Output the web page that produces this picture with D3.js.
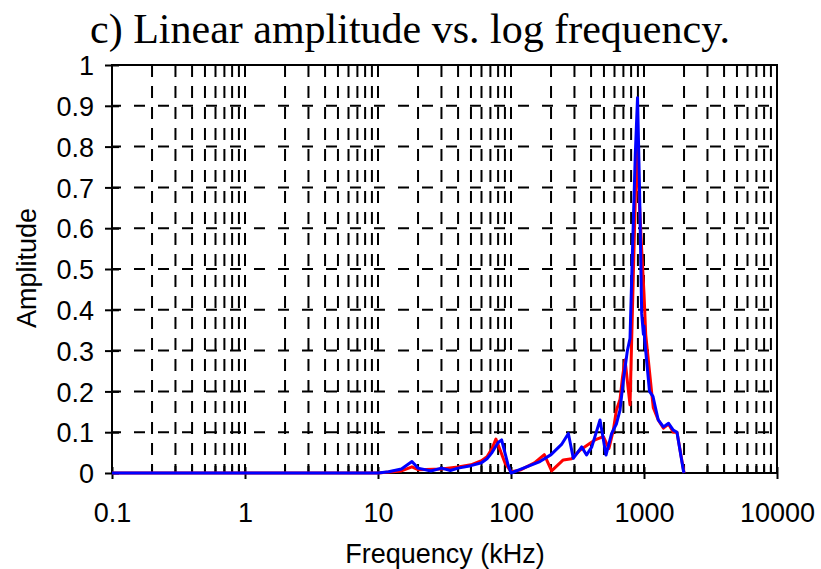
<!DOCTYPE html>
<html><head><meta charset="utf-8">
<script src="https://cdn.jsdelivr.net/npm/d3@7"></script>
<style>body{margin:0;background:#fff}svg{display:block}</style>
</head><body>
<svg id="c" width="821" height="569"></svg>
<script>
const titleText = "c) Linear amplitude vs. log frequency.";
const xLabel = "Frequency (kHz)";
const yLabel = "Amplitude";
const xTickValues = [0.1, 1, 10, 100, 1000, 10000];
const xTickLabels = ["0.1", "1", "10", "100", "1000", "10000"];
const yTickValues = [0, 0.1, 0.2, 0.3, 0.4, 0.5, 0.6, 0.7, 0.8, 0.9, 1];
const yTickLabels = ["0", "0.1", "0.2", "0.3", "0.4", "0.5", "0.6", "0.7", "0.8", "0.9", "1"];

const redFreq = [0.1, 1, 10, 15, 18, 20, 30, 40, 50, 60, 66, 72, 77, 82, 90, 100, 117, 150, 178, 202, 247, 286, 330, 393, 428, 495, 545, 588, 620, 660, 690, 720, 785, 880, 961, 1000, 1030, 1143, 1175, 1280, 1400, 1530, 1660, 1770, 2000];
const redAmp = [0, 0, 0, 0.005, 0.015, 0.008, 0.01, 0.015, 0.02, 0.03, 0.04, 0.06, 0.083, 0.06, 0.025, 0.003, 0.007, 0.025, 0.045, 0.005, 0.032, 0.035, 0.056, 0.073, 0.081, 0.089, 0.06, 0.105, 0.154, 0.18, 0.236, 0.277, 0.167, 0.8, 0.547, 0.44, 0.34, 0.196, 0.16, 0.13, 0.11, 0.12, 0.1, 0.1, 0];

const blueFreq = [0.1, 1, 10, 12, 15, 18, 20, 25, 30, 35, 40, 50, 60, 66, 72, 80, 85, 90, 95, 100, 120, 165, 200, 240, 270, 294, 340, 370, 405, 467, 518, 571, 620, 660, 700, 750, 785, 820, 860, 894, 925, 961, 990, 1000, 1010, 1050, 1100, 1170, 1220, 1280, 1400, 1530, 1660, 1770, 1980, 2000];
const blueAmp = [0, 0, 0, 0.003, 0.01, 0.028, 0.012, 0.005, 0.012, 0.006, 0.012, 0.018, 0.025, 0.035, 0.05, 0.075, 0.081, 0.05, 0.02, 0, 0.01, 0.028, 0.045, 0.07, 0.097, 0.036, 0.064, 0.044, 0.064, 0.13, 0.044, 0.097, 0.12, 0.154, 0.228, 0.3, 0.33, 0.55, 0.78, 0.92, 0.7, 0.39, 0.34, 0.36, 0.33, 0.27, 0.2, 0.187, 0.16, 0.13, 0.113, 0.122, 0.105, 0.1, 0.005, 0];

const svg = d3.select("#c");
const L = 112, R = 777, T = 65, B = 473;
const x = d3.scaleLog().domain([0.1, 10000]).range([L, R]);
const y = d3.scaleLinear().domain([0, 1]).range([B, T]);

const minor = [];
for (let d = 0.1; d < 10000; d *= 10) for (let k = 2; k <= 9; k++) minor.push(+(d * k).toPrecision(3));
const vGrid = minor.concat([1, 10, 100, 1000]);

const g = svg.append("g");
g.selectAll(".hg").data(yTickValues.filter(v => v > 0 && v < 1)).join("line")
  .attr("x1", L).attr("x2", R).attr("y1", d => y(d)).attr("y2", d => y(d))
  .attr("stroke", "#000").attr("stroke-width", 2).attr("stroke-dasharray", "11,13").attr("stroke-dashoffset", -22);
g.selectAll(".vg").data(vGrid).join("line")
  .attr("x1", d => x(d)).attr("x2", d => x(d)).attr("y1", T).attr("y2", B)
  .attr("stroke", "#000").attr("stroke-width", 2).attr("stroke-dasharray", "12,9");

svg.append("rect").attr("x", L).attr("y", T).attr("width", R - L).attr("height", B - T)
  .attr("fill", "none").attr("stroke", "#000").attr("stroke-width", 2);

svg.selectAll(".xm").data(minor).join("line")
  .attr("x1", d => x(d)).attr("x2", d => x(d)).attr("y1", B).attr("y2", B - 7)
  .attr("stroke", "#000").attr("stroke-width", 2);

const xAxis = d3.axisBottom(x).tickValues(xTickValues).tickFormat((d, i) => xTickLabels[i]).tickSizeInner(12).tickSizeOuter(0).tickPadding(24);
const xa = svg.append("g").attr("transform", `translate(0,${B - 6})`).call(xAxis);
xa.select(".domain").remove();
xa.selectAll("line").attr("stroke", "#000").attr("stroke-width", 2);
xa.selectAll("text").attr("font-family", "Liberation Sans, Arial, sans-serif").attr("font-size", 27).attr("fill", "#000");

const yAxis = d3.axisLeft(y).tickValues(yTickValues).tickFormat((d, i) => yTickLabels[i]).tickSizeInner(14).tickSizeOuter(0).tickPadding(11);
const ya = svg.append("g").attr("transform", `translate(${L + 7},0)`).call(yAxis);
ya.select(".domain").remove();
ya.selectAll("line").attr("stroke", "#000").attr("stroke-width", 2);
ya.selectAll("text").attr("font-family", "Liberation Sans, Arial, sans-serif").attr("font-size", 27).attr("fill", "#000").attr("dy", "0.36em");

const line = d3.line().x(d => x(d[0])).y(d => y(d[1]));
svg.append("path").datum(redFreq.map((f, i) => [f, redAmp[i]]))
  .attr("d", line).attr("fill", "none").attr("stroke", "#ff0000").attr("stroke-width", 3).attr("stroke-linejoin", "round");
svg.append("path").datum(blueFreq.map((f, i) => [f, blueAmp[i]]))
  .attr("d", line).attr("fill", "none").attr("stroke", "#0000ff").attr("stroke-width", 3).attr("stroke-linejoin", "round");

svg.append("text").attr("x", 410).attr("y", 43).attr("text-anchor", "middle")
  .attr("font-family", "Liberation Serif, Times New Roman, serif").attr("font-size", 42).attr("fill", "#000").text(titleText);
svg.append("text").attr("x", 445).attr("y", 563).attr("text-anchor", "middle")
  .attr("font-family", "Liberation Sans, Arial, sans-serif").attr("font-size", 27).attr("fill", "#000").text(xLabel);
svg.append("text").attr("transform", "translate(36,268) rotate(-90)").attr("text-anchor", "middle")
  .attr("font-family", "Liberation Sans, Arial, sans-serif").attr("font-size", 27).attr("fill", "#000").text(yLabel);
</script>
</body></html>
